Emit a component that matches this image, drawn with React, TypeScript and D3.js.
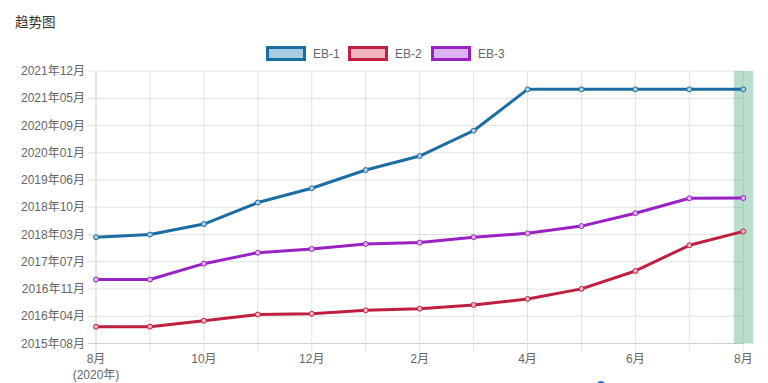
import React from "react";
import * as d3 from "d3";

const title = "趋势图";
const months = ["2020-08","2020-09","2020-10","2020-11","2020-12","2021-01","2021-02","2021-03","2021-04","2021-05","2021-06","2021-07","2021-08"];
const xTickLabels = ["8月","","10月","","12月","","2月","","4月","","6月","","8月"];
const xSubLabel = "(2020年)";
const yTickLabels = ["2015年08月","2016年04月","2016年11月","2017年07月","2018年03月","2018年10月","2019年06月","2020年01月","2020年09月","2021年05月","2021年12月"];
const yDomain = ["2015-08-15","2021-12-15"];

const eb1 = ["2018-02-03","2018-02-25","2018-05-25","2018-11-24","2019-03-25","2019-08-27","2019-12-24","2020-07-26","2021-07-12","2021-07-12","2021-07-12","2021-07-12","2021-07-12"];
const eb2 = ["2016-01-05","2016-01-05","2016-02-24","2016-04-17","2016-04-23","2016-05-23","2016-06-06","2016-07-07","2016-08-27","2016-11-21","2017-04-22","2017-11-26","2018-03-24"];
const eb3 = ["2017-02-08","2017-02-08","2017-06-23","2017-09-24","2017-10-26","2017-12-07","2017-12-19","2018-02-03","2018-03-08","2018-05-08","2018-08-25","2018-12-30","2019-01-01"];

const seriesNames = ["EB-1","EB-2","EB-3"];
const seriesData = [eb1, eb2, eb3];
const strokeColors = ["#1b6ea3","#c01f40","#9a22c4"];
const fillColors = ["#a9cce3","#f2b3c0","#ddb2f0"];
const highlightMonth = "2021-08";

const W = 768, H = 383;
const left = 96, right = 743.3, top = 71, bottom = 343.5;
const font = "'Liberation Sans', Arial, 'Noto Sans CJK SC', sans-serif";

export default function App() {
  const parse = d3.timeParse("%Y-%m-%d");
  const x = d3.scalePoint<string>().domain(months).range([left, right]);
  const y = d3.scaleTime().domain(yDomain.map(d => parse(d) as Date)).range([bottom, top]);
  const yIdx = d3.scaleLinear().domain([0, yTickLabels.length - 1]).range([bottom, top]);
  const line = d3.line<[string, string]>().x(d => x(d[0]) as number).y(d => y(parse(d[1]) as Date));
  const hx = x(highlightMonth) as number;

  const legendX = [266, 348, 431];

  return (
    <svg width={W} height={H} style={{ position: "absolute", left: 0, top: 0, background: "#fff" }} fontFamily={font}>
      <text x={15} y={27} fontSize={13.5} fill="#333">{title}</text>
      {seriesNames.map((n, i) => (
        <g key={n}>
          <rect x={legendX[i] + 1.5} y={47.5} width={37} height={12} fill={fillColors[i]} stroke={strokeColors[i]} strokeWidth={3} />
          <text x={legendX[i] + 47} y={57.5} fontSize={12} fill="#666">{n}</text>
        </g>
      ))}
      {/* grid */}
      {yTickLabels.map((t, i) => (
        <g key={t}>
          <line x1={left - 8} x2={right} y1={yIdx(i)} y2={yIdx(i)} stroke={i === 0 ? "#cfcfcf" : "#e3e3e3"} strokeWidth={1} />
          <text x={85} y={yIdx(i) + 4} textAnchor="end" fontSize={12} fill="#666">{t}</text>
        </g>
      ))}
      {months.map((m, i) => (
        <g key={m}>
          <line x1={x(m)} x2={x(m)} y1={top} y2={bottom + 8} stroke={i === 0 ? "#cfcfcf" : "#e3e3e3"} strokeWidth={1} />
          {xTickLabels[i] && (
            <text x={x(m)} y={363} textAnchor="middle" fontSize={12} fill="#666">{xTickLabels[i]}</text>
          )}
        </g>
      ))}
      <text x={x(months[0])} y={379} textAnchor="middle" fontSize={12} fill="#666">{xSubLabel}</text>
      <rect x={hx - 9.5} y={top} width={19.5} height={bottom - top} fill="rgba(70,172,120,0.38)" />
      {seriesData.map((s, i) => {
        const pts = months.map((m, j) => [m, s[j]] as [string, string]);
        return (
          <g key={i}>
            <path d={line(pts) as string} fill="none" stroke={strokeColors[i]} strokeWidth={3} strokeLinejoin="round" />
            {pts.map((p, j) => (
              <circle key={j} cx={x(p[0])} cy={y(parse(p[1]) as Date)} r={2.5} fill={fillColors[i]} stroke={strokeColors[i]} strokeWidth={1} />
            ))}
          </g>
        );
      })}
      <circle cx={601} cy={385} r={4} fill="#1a73e8" />
    </svg>
  );
}
